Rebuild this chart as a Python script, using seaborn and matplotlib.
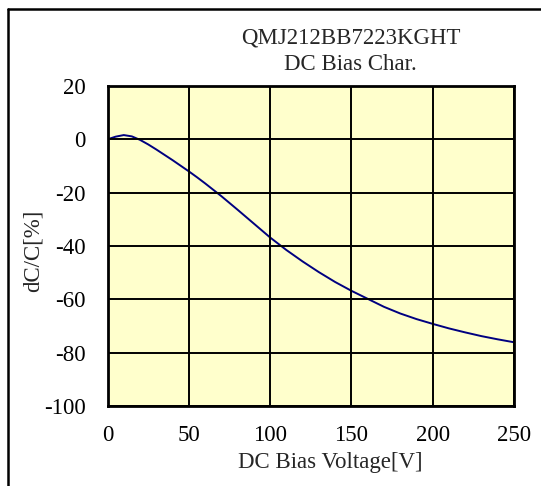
import matplotlib
matplotlib.use("Agg")
import matplotlib.pyplot as plt
import seaborn as sns
import pandas as pd
from matplotlib.lines import Line2D

# Data
voltage = [0, 5, 10, 15, 20, 25, 30, 35, 40, 45, 50, 55, 60, 65, 70, 80, 90,
           100, 110, 120, 130, 140, 150, 160, 170, 180, 190, 200, 210, 220, 230, 240, 250]
dcc = [0, 1.0, 1.6, 1.1, -0.2, -1.9, -3.8, -5.8, -7.8, -9.9, -12.0, -14.2, -16.5,
       -18.9, -21.3, -26.4, -31.6, -36.8, -41.5, -45.8, -49.8, -53.5, -56.8, -59.8,
       -62.8, -65.3, -67.4, -69.2, -70.9, -72.4, -73.8, -75.0, -76.1]
x_ticks = [0, 50, 100, 150, 200, 250]
y_ticks = [-100, -80, -60, -40, -20, 0, 20]
title_lines = ["QMJ212BB7223KGHT", "DC Bias Char."]
x_label = "DC Bias Voltage[V]"
y_label = "dC/C[%]"

df = pd.DataFrame({"V": voltage, "dC": dcc})

sns.set_style("white")
plt.rcParams["font.family"] = ["Liberation Serif", "DejaVu Serif"]
plt.rcParams["axes.unicode_minus"] = False

W, H = 541, 486
fig = plt.figure(figsize=(W / 100, H / 100), dpi=100)
ax = fig.add_axes([107.5 / W, 1 - 406 / H, (514 - 107.5) / W, (406 - 86) / H])
ax.set_facecolor("#FFFFCC")

sns.lineplot(data=df, x="V", y="dC", ax=ax, color="#000080", linewidth=1.4)

ax.set_xlim(0, 250)
ax.set_ylim(-100, 20)
ax.set_xticks(x_ticks)
ax.set_yticks(y_ticks)
ax.grid(True, color="black", linewidth=1.4)
ax.set_axisbelow(False)
for s in ax.spines.values():
    s.set_visible(True)
    s.set_color("black")
    s.set_linewidth(2.0)
ax.tick_params(axis="both", length=0, labelsize=16.5, colors="black", pad=14)
ax.tick_params(axis="y", pad=15.5)
ax.set_xlabel("")
ax.set_ylabel("")

fig.text(330.5 / W, 1 - 462 / H, x_label, ha="center", va="center", fontsize=16.5)
fig.text(33 / W, 1 - 251 / H, y_label, ha="center", va="center", rotation=90, fontsize=16.5)
fig.text(350.5 / W, 1 - 38 / H, title_lines[0], ha="center", va="center", fontsize=16.5)
fig.text(350.5 / W, 1 - 64 / H, title_lines[1], ha="center", va="center", fontsize=16.5)

# outer border (top and left visible)
fig.add_artist(Line2D([7.5 / W, 7.5 / W], [0, 1 - 9 / H], transform=fig.transFigure,
                      color="black", linewidth=1.8))
fig.add_artist(Line2D([7.5 / W, 1], [1 - 9 / H, 1 - 9 / H], transform=fig.transFigure,
                      color="black", linewidth=1.8))

fig.savefig("out.png", dpi=100, facecolor="white")
